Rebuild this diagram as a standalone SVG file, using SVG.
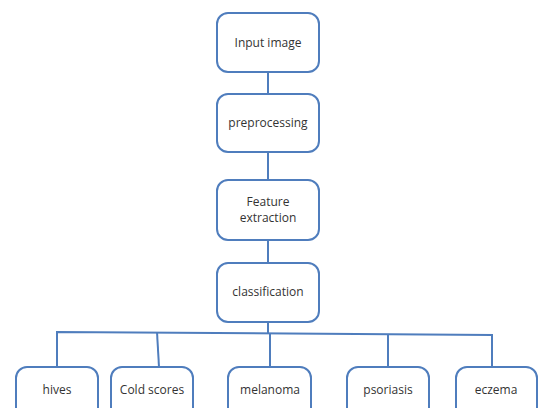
<svg xmlns="http://www.w3.org/2000/svg" width="539" height="408" viewBox="0 0 539 408">
<style>
.box{fill:#ffffff;stroke:#4f7dbd;stroke-width:2}
.lbl{font-family:"Open Sans","Liberation Sans",sans-serif;font-size:12px;fill:#333333;text-anchor:middle}
.ln{stroke:#4f7dbd;stroke-width:2;fill:none}
</style>
<rect width="539" height="408" fill="#ffffff"/>
<g id="connectors">
<line class="ln" x1="268" y1="72" x2="268" y2="94"/>
<line class="ln" x1="268" y1="152" x2="268" y2="180"/>
<line class="ln" x1="268" y1="240" x2="268" y2="263"/>
<line class="ln" x1="268" y1="322" x2="268" y2="333"/>
<polyline class="ln" points="57,367 57,332 492,335 492,367"/>
<line class="ln" x1="157" y1="332" x2="159" y2="367"/>
<line class="ln" x1="270" y1="333" x2="270" y2="367"/>
<line class="ln" x1="388" y1="334" x2="388" y2="367"/>
</g>
<g id="input-image"><rect class="box" x="217" y="13" width="102" height="59" rx="11"/><text class="lbl" x="268" y="47">Input image</text></g>
<g id="preprocessing"><rect class="box" x="217" y="94" width="102" height="58" rx="11"/><text class="lbl" x="268" y="127">preprocessing</text></g>
<g id="feature-extraction"><rect class="box" x="217" y="180" width="102" height="60" rx="11"/><text class="lbl" x="268" y="206">Feature</text><text class="lbl" x="268" y="222">extraction</text></g>
<g id="classification"><rect class="box" x="217" y="263" width="102" height="59" rx="11"/><text class="lbl" x="268" y="296">classification</text></g>
<g id="hives"><rect class="box" x="16" y="367" width="82" height="58" rx="11"/><text class="lbl" x="57" y="394">hives</text></g>
<g id="cold-scores"><rect class="box" x="111" y="367" width="82" height="58" rx="11"/><text class="lbl" x="152" y="394">Cold scores</text></g>
<g id="melanoma"><rect class="box" x="228" y="367" width="83" height="58" rx="11"/><text class="lbl" x="270" y="394">melanoma</text></g>
<g id="psoriasis"><rect class="box" x="347" y="367" width="82" height="58" rx="11"/><text class="lbl" x="388" y="394">psoriasis</text></g>
<g id="eczema"><rect class="box" x="456" y="367" width="81" height="58" rx="11"/><text class="lbl" x="496" y="394">eczema</text></g>
</svg>
